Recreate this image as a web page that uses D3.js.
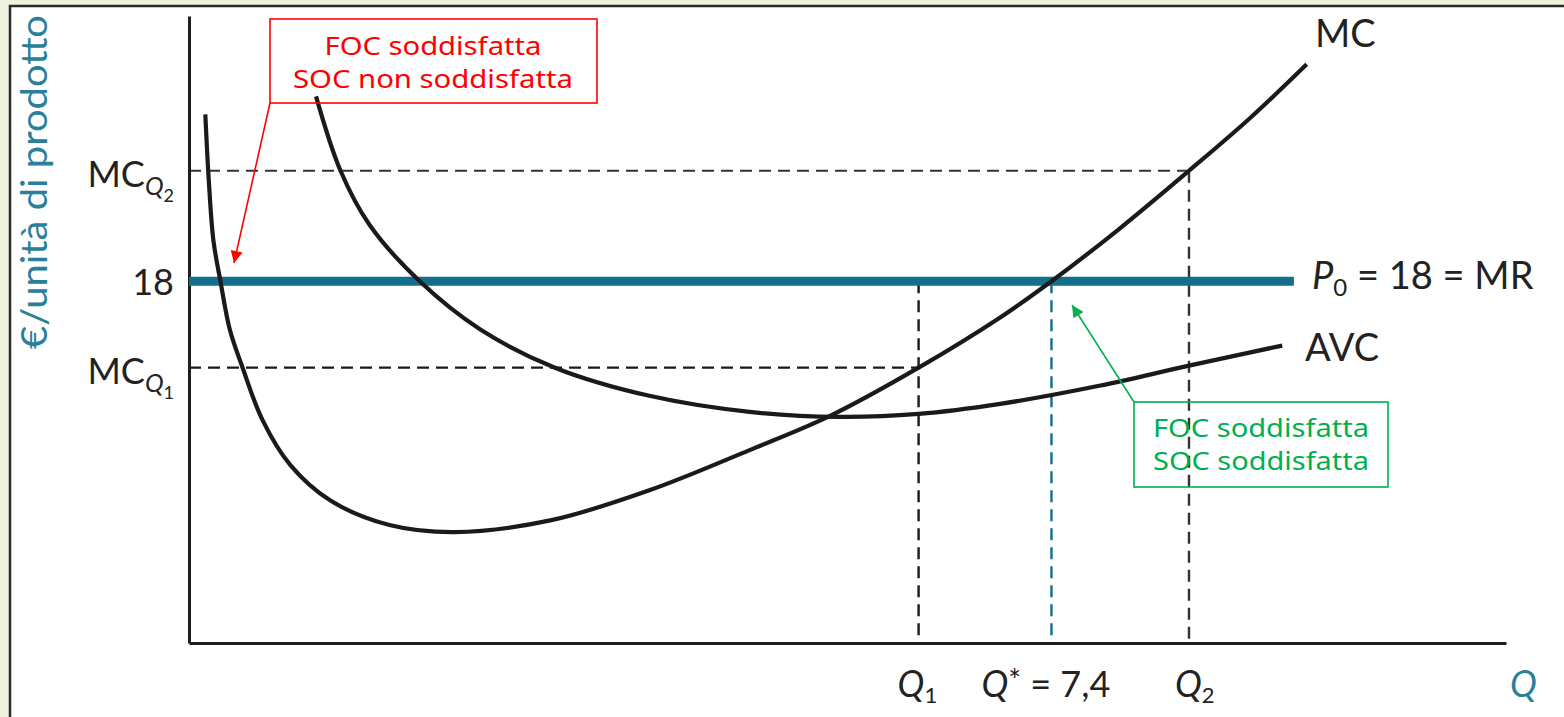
<!DOCTYPE html>
<html>
<head>
<meta charset="utf-8">
<script src="https://cdn.jsdelivr.net/npm/d3@7"></script>
<style>
  html, body { margin: 0; padding: 0; background: #eef3df; }
  svg { display: block; }
</style>
</head>
<body>
<svg id="chart" width="1564" height="717"></svg>
<script>
// ---- data (economic units: Q on x, €/unit on y) ----
const qDomain = [0, 11.3];
const pDomain = [0, 31.2];

const mcQ = [0.14, 0.17, 0.21, 0.27, 0.35, 0.46, 0.63, 0.87, 1.21, 1.72, 2.28, 3.10, 3.95, 4.81, 5.50, 6.26, 6.96, 7.40, 7.98, 8.58, 9.10, 9.59];
const mcP = [26.3, 23.0, 20.0, 18.0, 15.6, 13.7, 11.1, 8.85, 7.1, 5.87, 5.52, 6.1, 7.6, 9.6, 11.3, 13.7, 16.2, 18.0, 20.6, 23.5, 26.1, 28.8];

const avcQ = [1.09, 1.30, 1.55, 1.98, 2.50, 3.14, 3.95, 4.81, 5.58, 6.26, 6.96, 7.81, 8.58, 9.38];
const avcP = [27.2, 23.5, 20.8, 18.0, 15.6, 13.7, 12.3, 11.5, 11.25, 11.4, 11.9, 12.8, 13.8, 14.8];

const P0 = 18;
const Qstar = 7.4;
const Q1 = 6.26;
const Q2 = 8.58;
const MCQ1 = 13.7;
const MCQ2 = 23.5;
const priceLineEnd = 9.48;

const yTickLabels = [
  { value: MCQ2, main: "MC", sub: "Q", subsub: "2" },
  { value: P0, main: "18" },
  { value: MCQ1, main: "MC", sub: "Q", subsub: "1" }
];
const curveLabels = ["MC", "AVC"];
const yTitle = "€/unità di prodotto";
const xTitle = "Q";
const redNote = ["FOC soddisfatta", "SOC non soddisfatta"];
const greenNote = ["FOC soddisfatta", "SOC soddisfatta"];

// ---- drawing ----
const svg = d3.select("#chart");
const W = 1564, H = 717;
const x = d3.scaleLinear().domain(qDomain).range([189, 1506]);
const y = d3.scaleLinear().domain(pDomain).range([643, 16]);

const labelFont = "Lato, 'Open Sans', sans-serif";
const noteFont = "'Noto Sans', Lato, sans-serif";
const teal = "#136f8c";
const titleTeal = "#2a8099";

svg.append("rect").attr("width", W).attr("height", H).attr("fill", "#eef3df");
svg.append("rect").attr("x", 10).attr("y", 6).attr("width", 1600).attr("height", 800)
  .attr("fill", "#ffffff").attr("stroke", "#2b2b2b").attr("stroke-width", 2.5);

// dashed guide lines
const dash = "12,7";
function hdash(v, qEnd, color) {
  svg.append("line").attr("x1", x(0)).attr("x2", x(qEnd))
    .attr("y1", y(v)).attr("y2", y(v))
    .attr("stroke", color).attr("stroke-width", 2.2).attr("stroke-dasharray", dash);
}
function vdash(q, vTop, color) {
  svg.append("line").attr("x1", x(q)).attr("x2", x(q))
    .attr("y1", y(vTop)).attr("y2", y(0))
    .attr("stroke", color).attr("stroke-width", 2.4).attr("stroke-dasharray", dash);
}
hdash(MCQ2, Q2, "#333");
vdash(Q2, MCQ2, "#333");
hdash(MCQ1, Q1, "#1a1a1a");
vdash(Q1, P0, "#1a1a1a");
vdash(Qstar, P0, teal);

// axes (no ticks)
svg.append("g").attr("transform", `translate(${x(0)},0)`)
  .call(d3.axisLeft(y).tickValues([]).tickSizeOuter(0))
  .call(g => g.select(".domain").attr("stroke", "#1e1e1e").attr("stroke-width", 3));
svg.append("g").attr("transform", `translate(0,${y(0)})`)
  .call(d3.axisBottom(x).tickValues([]).tickSizeOuter(0))
  .call(g => g.select(".domain").attr("stroke", "#1e1e1e").attr("stroke-width", 3));

// price line
svg.append("line").attr("x1", x(0)).attr("x2", x(priceLineEnd))
  .attr("y1", y(P0)).attr("y2", y(P0))
  .attr("stroke", teal).attr("stroke-width", 9);

// curves
const line = d3.line().x(d => x(d[0])).y(d => y(d[1])).curve(d3.curveCatmullRom.alpha(0.5));
svg.append("path").datum(mcQ.map((q, i) => [q, mcP[i]])).attr("d", line)
  .attr("fill", "none").attr("stroke", "#1a1a1a").attr("stroke-width", 4.2);
svg.append("path").datum(avcQ.map((q, i) => [q, avcP[i]])).attr("d", line)
  .attr("fill", "none").attr("stroke", "#1a1a1a").attr("stroke-width", 4.2);

// y tick labels
yTickLabels.forEach(t => {
  const txt = svg.append("text").attr("x", 174).attr("y", y(t.value) + (t.sub ? 16 : 14))
    .attr("text-anchor", "end").attr("font-family", labelFont).attr("font-size", 36)
    .attr("fill", "#222");
  txt.append("tspan").text(t.main);
  if (t.sub) {
    txt.append("tspan").attr("font-style", "italic").attr("font-size", 25).attr("dy", 8).text(t.sub);
    txt.append("tspan").attr("font-size", 18).attr("dy", 7).text(t.subsub);
  }
});

// y title
svg.append("text").attr("transform", `translate(47,182) rotate(-90)`)
  .attr("text-anchor", "middle").attr("font-family", labelFont).attr("font-size", 37)
  .attr("textLength", 334).attr("lengthAdjust", "spacingAndGlyphs")
  .attr("fill", titleTeal).text(yTitle);

// x labels
const xl1 = svg.append("text").attr("x", x(Q1) - 21).attr("y", 697)
  .attr("font-family", labelFont).attr("font-size", 36).attr("fill", "#222");
xl1.append("tspan").attr("font-style", "italic").text("Q");
xl1.append("tspan").attr("font-size", 22).attr("dy", 6).text("1");

const xls = svg.append("text").attr("x", x(Qstar) - 70).attr("y", 697)
  .attr("font-family", labelFont).attr("font-size", 36).attr("fill", "#222");
xls.append("tspan").attr("font-style", "italic").text("Q");
xls.append("tspan").attr("font-size", 30).attr("dy", -6).text("*");
xls.append("tspan").attr("dy", 6).text(" = 7,4");

const xl2 = svg.append("text").attr("x", x(Q2) - 14).attr("y", 697)
  .attr("font-family", labelFont).attr("font-size", 36).attr("fill", "#222");
xl2.append("tspan").attr("font-style", "italic").text("Q");
xl2.append("tspan").attr("font-size", 22).attr("dy", 6).text("2");

svg.append("text").attr("x", 1510).attr("y", 697)
  .attr("font-family", labelFont).attr("font-size", 36).attr("font-style", "italic")
  .attr("fill", titleTeal).text(xTitle);

// curve labels
svg.append("text").attr("x", 1315).attr("y", 47).attr("font-family", labelFont)
  .attr("font-size", 38).attr("fill", "#222").text(curveLabels[0]);
svg.append("text").attr("x", 1305).attr("y", 361).attr("font-family", labelFont)
  .attr("font-size", 38).attr("fill", "#222").text(curveLabels[1]);
const pl = svg.append("text").attr("x", 1312).attr("y", 289).attr("font-family", labelFont)
  .attr("font-size", 38).attr("fill", "#222");
pl.append("tspan").attr("font-style", "italic").text("P");
pl.append("tspan").attr("font-size", 24).attr("dy", 7).text("0");
pl.append("tspan").attr("dy", -7).text(" = 18 = MR");

// annotation boxes
const defs = svg.append("defs");
function marker(id, color) {
  defs.append("marker").attr("id", id).attr("viewBox", "0 0 10 10")
    .attr("refX", 10).attr("refY", 5).attr("markerWidth", 14).attr("markerHeight", 12)
    .attr("markerUnits", "userSpaceOnUse").attr("orient", "auto")
    .append("path").attr("d", "M0,0 L10,5 L0,10 z").attr("fill", color);
}
marker("arrRed", "#ff0000");
marker("arrGreen", "#00b050");

function note(x0, y0, w, h, lines, color, baselines, widths, cx, arrow) {
  svg.append("rect").attr("x", x0).attr("y", y0).attr("width", w).attr("height", h)
    .attr("fill", "none").attr("stroke", color).attr("stroke-width", 1.6);
  lines.forEach((t, i) => {
    svg.append("text").attr("x", cx).attr("y", baselines[i]).attr("text-anchor", "middle")
      .attr("font-family", noteFont).attr("font-size", 25).attr("fill", color)
      .attr("textLength", widths[i]).attr("lengthAdjust", "spacingAndGlyphs").text(t);
  });
  svg.append("line").attr("x1", arrow[0]).attr("y1", arrow[1]).attr("x2", arrow[2]).attr("y2", arrow[3])
    .attr("stroke", color).attr("stroke-width", 1.6)
    .attr("marker-end", `url(#${arrow[4]})`);
}
note(270, 19, 327, 84, redNote, "#ff0000", [55, 88], [217, 280], 433, [270, 103, 234, 263, "arrRed"]);
note(1134, 402, 254, 85, greenNote, "#00b050", [437, 470], [216, 216], 1261, [1134, 402, 1072, 305, "arrGreen"]);
</script>
</body>
</html>
